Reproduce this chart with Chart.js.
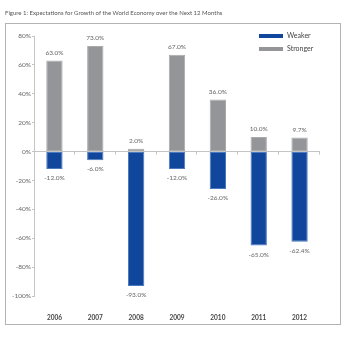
<!DOCTYPE html>
<html>
<head>
<meta charset="utf-8">
<script src="https://cdn.jsdelivr.net/npm/chart.js@4/dist/chart.umd.min.js"></script>
<style>
  html, body { margin: 0; padding: 0; background: #fff; }
  #wrap { position: relative; width: 350px; height: 338px; }
  #title { position: absolute; left: 5px; top: 9px; font: 6px Lato, sans-serif; color: #555; white-space: nowrap; }
  #frame { position: absolute; left: 5px; top: 23px; width: 334px; height: 300px; border: 1.5px solid #b3b3b3; pointer-events: none; }
  canvas { position: absolute; left: 0; top: 0; }
</style>
</head>
<body>
<div id="wrap">
  <canvas id="chart" width="350" height="338"></canvas>
  <div id="title">Figure 1: Expectations for Growth of the World Economy over the Next 12 Months</div>
  <div id="frame"></div>
</div>
<script>
var years = ["2006", "2007", "2008", "2009", "2010", "2011", "2012"];
var weaker = [-12.0, -6.0, -93.0, -12.0, -26.0, -65.0, -62.4];
var stronger = [63.0, 73.0, 2.0, 67.0, 36.0, 10.0, 9.7];
var yTicks = [80, 60, 40, 20, 0, -20, -40, -60, -80, -100];

var blue = "#10479d";
var grey = "#939598";

// value labels above / below each bar
var valueLabels = {
    id: 'valueLabels',
    afterDatasetsDraw: function(chart) {
        var ctx = chart.ctx;
        ctx.save();
        ctx.font = "6.5px Lato, sans-serif";
        ctx.fillStyle = "#666";
        ctx.textAlign = "center";
        ctx.textBaseline = "middle";
        chart.data.datasets.forEach(function(ds, i) {
            chart.getDatasetMeta(i).data.forEach(function(bar, j) {
                var v = ds.data[j];
                var y = v >= 0 ? bar.y - 8 : bar.y + 9;
                ctx.fillText(v.toFixed(1) + "%", bar.x, y);
            });
        });
        ctx.restore();
    }
};

// small category marks under the zero line, plus legend
var extras = {
    id: 'extras',
    afterDraw: function(chart) {
        var ctx = chart.ctx;
        var x = chart.scales.x, y = chart.scales.y;
        var y0 = y.getPixelForValue(0);
        var step = x.width / years.length;
        ctx.save();
        ctx.strokeStyle = "#c4c4c4";
        ctx.lineWidth = 1;
        for (var i = 1; i <= years.length; i++) {
            var px = Math.round(x.left + i * step) - 0.5;
            ctx.beginPath();
            ctx.moveTo(px, y0);
            ctx.lineTo(px, y0 + 3);
            ctx.stroke();
        }
        // legend
        ctx.font = "7px Lato, sans-serif";
        ctx.textBaseline = "middle";
        chart.data.datasets.forEach(function(ds, i) {
            var ly = 36 + i * 13;
            ctx.fillStyle = ds.backgroundColor;
            ctx.fillRect(259, ly - 2, 24, 4);
            ctx.fillStyle = "#444";
            ctx.fillText(ds.label, 287, ly);
        });
        ctx.restore();
    }
};

new Chart(document.getElementById("chart"), {
    type: 'bar',
    data: {
        labels: years,
        datasets: [
            { label: "Weaker", data: weaker, backgroundColor: blue, borderColor: "#4c78bd", borderWidth: 1, borderSkipped: false },
            { label: "Stronger", data: stronger, backgroundColor: grey, borderColor: "#a9aaac", borderWidth: 1, borderSkipped: false }
        ]
    },
    options: {
        responsive: false,
        animation: false,
        layout: { padding: { left: 0, right: 30, top: 36, bottom: 0 } },
        plugins: { legend: { display: false }, tooltip: { enabled: false } },
        datasets: { bar: { categoryPercentage: 1, barPercentage: 0.4 } },
        scales: {
            x: {
                stacked: true,
                grid: { display: false },
                border: { display: false },
                ticks: { padding: 10, color: "#444", font: { family: "Lato", size: 6.5, weight: "bold" } },
                afterFit: function(s) { s.height = 42; }
            },
            y: {
                stacked: true,
                min: -100, max: 80,
                afterBuildTicks: function(s) { s.ticks = yTicks.map(function(v) { return { value: v }; }); },
                grid: {
                    color: function(c) { return c.tick && c.tick.value === 0 ? "#c4c4c4" : "rgba(0,0,0,0)"; },
                    tickColor: "#c4c4c4",
                    tickLength: 2
                },
                border: { display: true, color: "#c4c4c4" },
                ticks: {
                    padding: 1,
                    color: "#666",
                    font: { family: "Lato", size: 6.5 },
                    callback: function(v) { return v + "%"; }
                },
                afterFit: function(s) { s.width = 34; }
            }
        }
    },
    plugins: [valueLabels, extras]
});
</script>
</body>
</html>
